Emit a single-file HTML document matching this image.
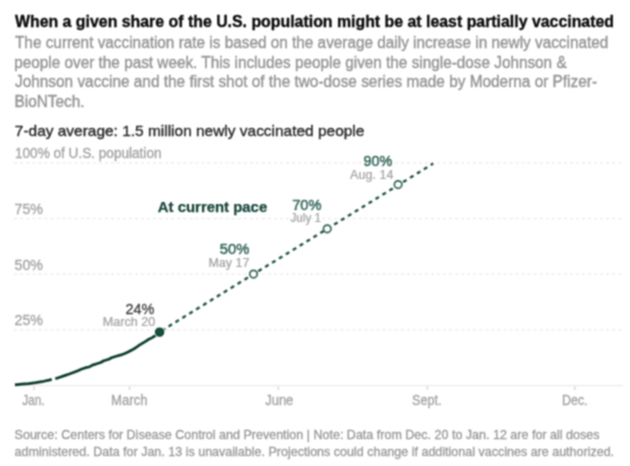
<!DOCTYPE html>
<html>
<head>
<meta charset="utf-8">
<style>
html,body{margin:0;padding:0;background:#fff;}
body{width:630px;height:466px;overflow:hidden;}
svg{display:block;}
text{font-family:"Liberation Sans",sans-serif;}
.t{font-weight:bold;font-size:16px;fill:#0a0a0a;stroke:#0a0a0a;stroke-width:0.35px;}
.s{font-size:16px;fill:#939393;stroke:#939393;stroke-width:0.35px;}
.h{font-size:15px;fill:#262626;stroke:#262626;stroke-width:0.35px;}
.ax{font-size:14px;fill:#a2a2a2;stroke:#a2a2a2;stroke-width:0.3px;}
.f{font-size:13px;fill:#979797;stroke:#979797;stroke-width:0.3px;}
.pct{font-size:15.3px;fill:#33665a;stroke:#33665a;stroke-width:0.5px;}
.dt{font-size:13px;fill:#a2a2a2;stroke:#a2a2a2;stroke-width:0.22px;}
</style>
</head>
<body>
<svg width="630" height="466" viewBox="0 0 630 466">
<defs><filter id="bl" x="0" y="0" width="630" height="466" filterUnits="userSpaceOnUse" color-interpolation-filters="sRGB"><feConvolveMatrix order="3" kernelMatrix="1 2 1 2 4 2 1 2 1" divisor="16" edgeMode="duplicate" preserveAlpha="true"/></filter></defs>
<g filter="url(#bl)">
<rect width="630" height="466" fill="#fff"/>
<!-- header -->
<text class="t" x="15" y="27" textLength="599" lengthAdjust="spacingAndGlyphs">When a given share of the U.S. population might be at least partially vaccinated</text>
<text class="s" x="15" y="48.3" textLength="593.3" lengthAdjust="spacingAndGlyphs">The current vaccination rate is based on the average daily increase in newly vaccinated</text>
<text class="s" x="14.3" y="68.1" textLength="552.3" lengthAdjust="spacingAndGlyphs">people over the past week. This includes people given the single-dose Johnson &amp;</text>
<text class="s" x="15" y="87.3" textLength="582" lengthAdjust="spacingAndGlyphs">Johnson vaccine and the first shot of the two-dose series made by Moderna or Pfizer-</text>
<text class="s" x="14.5" y="107.2" textLength="70" lengthAdjust="spacingAndGlyphs">BioNTech.</text>
<text class="h" x="14.8" y="135.6" textLength="349.6" lengthAdjust="spacingAndGlyphs">7-day average: 1.5 million newly vaccinated people</text>

<!-- gridlines -->
<g stroke="#e9e9e9" stroke-width="1.2" stroke-dasharray="3 3.04">
<line x1="14.2" y1="162.9" x2="622" y2="162.9"/>
<line x1="14.2" y1="218.55" x2="622" y2="218.55"/>
<line x1="14.2" y1="274.2" x2="622" y2="274.2"/>
<line x1="14.2" y1="329.85" x2="622" y2="329.85"/>
</g>
<line x1="15" y1="385.7" x2="623" y2="385.7" stroke="#e6e6e6" stroke-width="1"/>
<g stroke="#d2d2d2" stroke-width="1.3">
<line x1="34" y1="386.5" x2="34" y2="390"/>
<line x1="129.5" y1="386.5" x2="129.5" y2="390"/>
<line x1="278.3" y1="386.5" x2="278.3" y2="390"/>
<line x1="427.3" y1="386.5" x2="427.3" y2="390"/>
<line x1="574.8" y1="386.5" x2="574.8" y2="390"/>
</g>

<!-- y labels -->
<text class="ax" x="15" y="158.3" textLength="146.5" lengthAdjust="spacingAndGlyphs">100% of U.S. population</text>
<text class="ax" x="14.6" y="213.7" textLength="28.4" lengthAdjust="spacingAndGlyphs">75%</text>
<text class="ax" x="14.6" y="269.6" textLength="28.4" lengthAdjust="spacingAndGlyphs">50%</text>
<text class="ax" x="14.6" y="325.4" textLength="28.4" lengthAdjust="spacingAndGlyphs">25%</text>

<!-- x labels -->
<text class="ax" x="33.5" y="405.2" text-anchor="middle" textLength="22.3" lengthAdjust="spacingAndGlyphs">Jan.</text>
<text class="ax" x="129.3" y="405" text-anchor="middle" textLength="36.5" lengthAdjust="spacingAndGlyphs">March</text>
<text class="ax" x="279.3" y="405" text-anchor="middle" textLength="28" lengthAdjust="spacingAndGlyphs">June</text>
<text class="ax" x="426.8" y="405" text-anchor="middle" textLength="29.5" lengthAdjust="spacingAndGlyphs">Sept.</text>
<text class="ax" x="574.8" y="405" text-anchor="middle" textLength="25.5" lengthAdjust="spacingAndGlyphs">Dec.</text>

<!-- curve -->
<path d="M14.9 384.9 L21.5 384.2 L28.7 383.6 L35.8 382.7 L42 381.7 L46 380.8 L49 380.1 L51.7 379.4" fill="none" stroke="#093b2e" stroke-width="2.7" stroke-linecap="butt" stroke-linejoin="round"/>
<path d="M55.3 378.7 L59.8 377.2 L64.5 375.6 L69.3 374.0 L74.0 372.3 L77.9 370.7 L81.7 369.1 L85.0 367.9 L89.8 366.7 L92.4 365.1 L96.9 363.7 L100.7 362.5 L103.8 360.8 L108.8 359.2 L111.5 357.8 L116.2 356.2 L121.0 354.9 L124.8 353.5 L128.6 351.8 L132.3 349.8 L136.1 347.5 L139.3 345.2 L142.7 343.1 L146.0 341.2 L148.9 339.2 L152.2 337.6 L155.5 335.5 L159.6 332.1" fill="none" stroke="#093b2e" stroke-width="2.7" stroke-linecap="butt" stroke-linejoin="round"/>
<!-- projection -->
<path d="M159.3 332.1 L433.2 163.6" fill="none" stroke="#1a4f41" stroke-width="2.35" stroke-dasharray="4 4.1" stroke-dashoffset="-2.8"/>
<circle cx="159.6" cy="332.1" r="5.6" fill="#fff"/>
<circle cx="159.6" cy="332.1" r="4.1" fill="#17503f" stroke="#0a3b2e" stroke-width="1.2"/>
<g fill="#fff" stroke="#2d6252" stroke-width="1.65">
<circle cx="253.5" cy="274.1" r="3.75"/>
<circle cx="327.2" cy="228.8" r="3.75"/>
<circle cx="398.1" cy="184.6" r="3.75"/>
</g>

<!-- annotations -->
<text x="154.5" y="313.6" text-anchor="end" textLength="29" lengthAdjust="spacingAndGlyphs" style="font-size:15.3px;fill:#3d3d3d;stroke:#3d3d3d;stroke-width:0.3px;">24%</text>
<text class="dt" x="155.3" y="326.4" text-anchor="end" textLength="52.5" lengthAdjust="spacingAndGlyphs">March 20</text>
<text class="pct" x="249.3" y="254.4" text-anchor="end" textLength="29.5" lengthAdjust="spacingAndGlyphs">50%</text>
<text class="dt" x="249.4" y="267.3" text-anchor="end" textLength="41" lengthAdjust="spacingAndGlyphs">May 17</text>
<text class="pct" x="321.5" y="209.8" text-anchor="end" textLength="29.3" lengthAdjust="spacingAndGlyphs">70%</text>
<text class="dt" x="321" y="222.4" text-anchor="end" textLength="30.5" lengthAdjust="spacingAndGlyphs">July 1</text>
<text class="pct" x="392.4" y="165.7" text-anchor="end" textLength="28.8" lengthAdjust="spacingAndGlyphs">90%</text>
<text class="dt" x="393.6" y="178.5" text-anchor="end" textLength="43.6" lengthAdjust="spacingAndGlyphs">Aug. 14</text>
<text x="157.8" y="212.3" textLength="109.4" lengthAdjust="spacingAndGlyphs" style="font-size:15px;font-weight:bold;fill:#15443a;stroke:#15443a;stroke-width:0.25px;">At current pace</text>

<!-- footer -->
<text class="f" x="14.6" y="439" textLength="584.8" lengthAdjust="spacingAndGlyphs">Source: Centers for Disease Control and Prevention | Note: Data from Dec. 20 to Jan. 12 are for all doses</text>
<text class="f" x="14.6" y="455.9" textLength="599.5" lengthAdjust="spacingAndGlyphs">administered. Data for Jan. 13 is unavailable. Projections could change if additional vaccines are authorized.</text>
</g>
</svg>
</body>
</html>
